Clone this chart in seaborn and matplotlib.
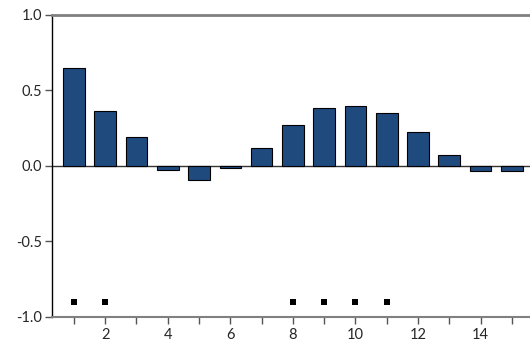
import matplotlib
matplotlib.use("Agg")
import matplotlib.pyplot as plt
import seaborn as sns
import numpy as np

lags = [1, 2, 3, 4, 5, 6, 7, 8, 9, 10, 11, 12, 13, 14, 15]
acf_values = [0.65, 0.365, 0.193, -0.027, -0.095, -0.01, 0.118, 0.27, 0.385,
              0.398, 0.353, 0.225, 0.071, -0.031, -0.035]
sig_lags = [1, 2, 8, 9, 10, 11]
sig_marker_y = [-0.9, -0.9, -0.9, -0.9, -0.9, -0.9]
x_tick_labels = ["", "2", "", "4", "", "6", "", "8", "", "10", "", "12", "", "14", ""]
y_ticks = [-1.0, -0.5, 0.0, 0.5, 1.0]
y_tick_labels = ["-1.0", "-0.5", "0.0", "0.5", "1.0"]

sns.set_style("white")
plt.rcParams['font.family'] = ['Lato', 'DejaVu Sans']

fig = plt.figure(figsize=(5.30, 3.49), dpi=100)
ax = fig.add_axes([52/530, 1 - 317/349, 1 - 52/530, (317 - 15)/349])

sns.barplot(x=lags, y=acf_values, native_scale=True, width=0.69,
            color="#1F4A7E", saturation=1, edgecolor="black", linewidth=0.8, ax=ax, zorder=3)
sns.scatterplot(x=sig_lags, y=sig_marker_y, marker="s", color="black", s=18,
                linewidth=0, ax=ax, zorder=4)

ax.axhline(0, color="#333333", linewidth=1.0, zorder=2)

ax.set_xlim(0.3, 15.58)
ax.set_ylim(-1.0, 1.0)
ax.set_xticks(lags)
ax.set_xticklabels(x_tick_labels)
ax.set_yticks(y_ticks)
ax.set_yticklabels(y_tick_labels)

for s in ["right"]:
    ax.spines[s].set_visible(False)
ax.spines["left"].set_color("black")
ax.spines["left"].set_linewidth(1.0)
ax.spines["top"].set_color("#808080")
ax.spines["top"].set_linewidth(2.0)
ax.spines["bottom"].set_color("#808080")
ax.spines["bottom"].set_linewidth(1.5)

ax.tick_params(axis="x", direction="out", length=5, width=1, color="#555555",
               labelsize=10.5, pad=3, bottom=True)
ax.tick_params(axis="y", direction="out", length=5, width=1, color="#555555",
               labelsize=10.5, pad=2, left=True)
ax.set_xlabel("")
ax.set_ylabel("")
ax.grid(False)

fig.savefig("out.png", dpi=100)
